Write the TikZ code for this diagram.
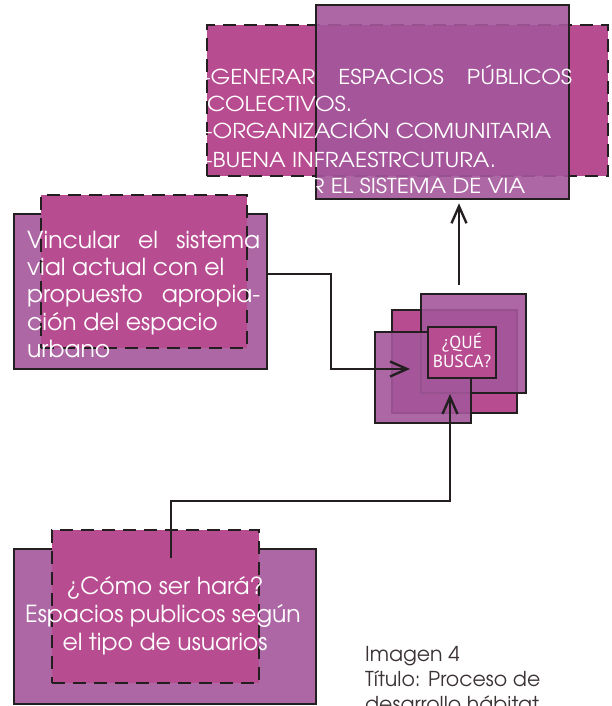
\documentclass[tikz,border=0pt]{standalone}
\usepackage{fontspec}
\setmainfont{TeX Gyre Adventor}
\newfontfamily\widefont{TeX Gyre Adventor}[FakeStretch=1.1]
\newfontfamily\myriad{PT Sans}
\usetikzlibrary{arrows.meta}
\definecolor{pinkc}{HTML}{B84C91}
\definecolor{mauve}{HTML}{A4579B}
\definecolor{ink}{HTML}{231F20}
\definecolor{captc}{HTML}{3A3233}
\begin{document}
\begin{tikzpicture}[x=1pt,y=-1pt,
  solidbox/.style={draw=ink,line width=2.6pt,fill=mauve,fill opacity=0.9,inner sep=0pt},
  dashbox/.style={draw=ink,line width=2.6pt,dash pattern=on 13pt off 8pt,fill=pinkc,inner sep=0pt},
  plainbox/.style={draw=ink,line width=2.6pt,fill=pinkc,inner sep=0pt},
  conn/.style={draw=ink,line width=2.4pt},
  arr/.style={conn,-{Straight Barb[length=17pt,width=15pt,line width=2.4pt]}},
  wtext/.style={text=white,inner sep=0pt,anchor=base west},
  toptext/.style={wtext,font=\widefont\fontsize{20.5}{24}\selectfont},
  lefttext/.style={wtext,font=\fontsize{23.5}{27}\selectfont},
  bottext/.style={text=white,inner sep=0pt,anchor=base,font=\fontsize{23.5}{27}\selectfont},
  captext/.style={text=captc,inner sep=0pt,anchor=base west,font=\fontsize{20.5}{24}\selectfont},
  qtext/.style={text=white,inner sep=0pt,anchor=base,font=\myriad\fontsize{17.5}{19}\selectfont},
]
\useasboundingbox (0,0) rectangle (611,706);
\clip (0,0) rectangle (611,706);

% top group
\node[dashbox,minimum width=401pt,minimum height=151pt] (topdash) at (407.5,100.5) {};
\node[solidbox,minimum width=253pt,minimum height=194pt] (topsolid) at (442.5,102) {};
\node[toptext] (t1) at (203,85) {\makebox[369pt][l]{-GENERAR\hfill ESPACIOS\hfill PÚBLICOS}};
\node[toptext] (t2) at (207,112) {COLECTIVOS.};
\node[toptext] (t3) at (205,139) {-ORGANIZACIÓN COMUNITARIA};
\node[toptext] (t4) at (205,167) {-BUENA INFRAESTRCUTURA.};
\node[toptext] (t5) at (205,193) {-VINCULAR EL SISTEMA DE VIA};

% left group
\node[solidbox,minimum width=253pt,minimum height=155pt] (leftsolid) at (140.5,291.5) {};
\node[dashbox,minimum width=206pt,minimum height=153pt] (leftdash) at (144,271.5) {};
\node[lefttext] (l1) at (27,248) {\makebox[233pt][l]{Vincular\hfill el\hfill sistema}};
\node[lefttext] (l2) at (27,275) {vial actual con el};
\node[lefttext] (l3) at (27,302) {\makebox[233pt][l]{propuesto\hfill apropia-}};
\node[lefttext] (l4) at (27,330) {ción del espacio};
\node[lefttext] (l5) at (27,357) {urbano};

% center group
\node[plainbox,minimum width=125pt,minimum height=103pt] (cback) at (454.5,361.5) {};
\node[solidbox,minimum width=105pt,minimum height=99pt] (cur) at (473.5,343.5) {};
\node[solidbox,minimum width=96pt,minimum height=91pt] (cll) at (423,377.5) {};
\node[plainbox,minimum width=68pt,minimum height=51pt] (qbox) at (462,352.5) {};
\node[qtext] (q1) at (462,348) {¿QUÉ};
\node[qtext] (q2) at (462,367) {BUSCA?};

% bottom group
\node[solidbox,minimum width=302pt,minimum height=155pt] (botsolid) at (165,626.5) {};
\node[dashbox,minimum width=207pt,minimum height=153pt] (botdash) at (155.5,606.5) {};
\node[bottext] (b1) at (165,594) {¿Cómo ser hará?};
\node[bottext] (b2) at (163,622) {Espacios publicos según};
\node[bottext] (b3) at (165,650) {el tipo de usuarios};

% caption
\node[captext] (c1) at (365,661) {Imagen 4};
\node[captext] (c2) at (365,686) {Título: Proceso de};
\node[captext] (c3) at (365,711) {desarrollo hábitat};

% connectors
\coordinate (qtop) at (459,285);
\draw[arr,shorten >=3pt] (qtop) -- (qtop |- topsolid.south);
\coordinate (lc1) at (331,274);
\coordinate (ltip) at (410,369);
\draw[arr] (leftsolid.east |- lc1) -- (lc1) |- (ltip);
\coordinate (bstart) at (171,558);
\coordinate (bc) at (450,501);
\coordinate (btip) at (450,394);
\draw[arr] (bstart) |- (bc) -- (btip);
\end{tikzpicture}
\end{document}
